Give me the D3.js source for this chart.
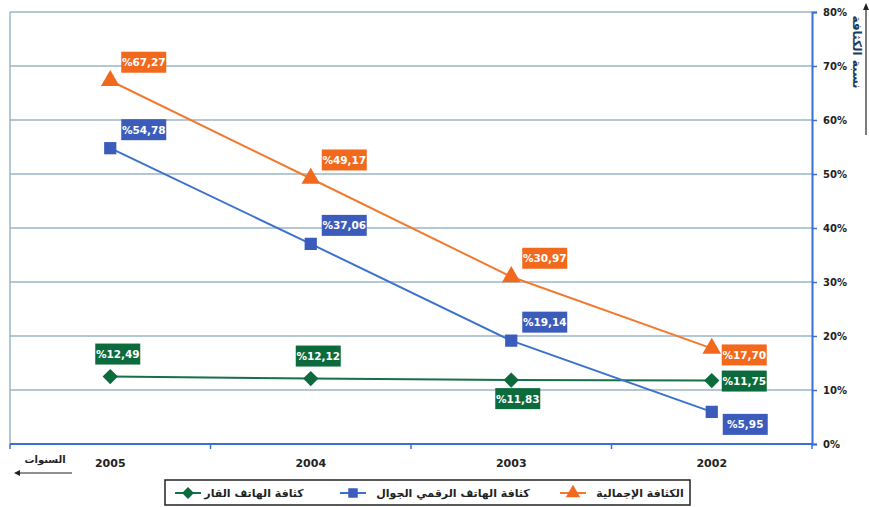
<html>
<head>
    <meta charset="utf-8">
    <title>Density</title>
    <script src="https://d3js.org/d3.v7.min.js"></script>
    <style>
        body { margin: 0; background: #fff; }
        text { font-family: "DejaVu Sans", sans-serif; }
    </style>
</head>
<body>
    <svg id="chart" width="869" height="507"></svg>
    <script>
        // data
        var years = ["2005", "2004", "2003", "2002"];
        var fixedLine = [12.49, 12.12, 11.83, 11.75];   // كثافة الهاتف القار
        var mobile = [54.78, 37.06, 19.14, 5.95];      // كثافة الهاتف الرقمي الجوال
        var total = [67.27, 49.17, 30.97, 17.70];      // الكثافة الإجمالية
        var yTicks = [0, 10, 20, 30, 40, 50, 60, 70, 80];

        var series = [
            { name: "كثافة الهاتف القار", values: fixedLine, color: "#0c6b3c", line: "#17704a", shape: d3.symbolDiamond2,
              place: ["above", "above", "below", "right"], legX: 10, legText: 89 },
            { name: "كثافة الهاتف الرقمي الجوال", values: mobile, color: "#3c5cbc", line: "#3a72cc", shape: d3.symbolSquare,
              place: ["rightUp", "rightUp", "rightUp", "rightDown"], legX: 175, legText: 288 },
            { name: "الكثافة الإجمالية", values: total, color: "#f2691e", line: "#f27a30", shape: d3.symbolTriangle,
              place: ["rightUp", "rightUp", "rightUp", "rightLow"], legX: 395, legText: 475 }
        ];

        var pLeft = 10, pRight = 812, pTop = 12, pBottom = 444;
        var svg = d3.select("#chart");

        var x = d3.scalePoint().domain(years).range([pLeft, pRight]).padding(0.5);
        var y = d3.scaleLinear().domain([0, 80]).range([pBottom, pTop]);

        // grid lines
        svg.append("g").selectAll("line").data(yTicks.slice(1)).enter().append("line")
            .attr("x1", pLeft).attr("x2", pRight)
            .attr("y1", function (d) { return y(d); }).attr("y2", function (d) { return y(d); })
            .attr("stroke", "#9bb5c6").attr("stroke-width", 1.5);
        svg.append("line").attr("x1", pLeft).attr("x2", pLeft).attr("y1", pTop).attr("y2", pBottom)
            .attr("stroke", "#9bb5c6").attr("stroke-width", 1.5);

        // right axis
        var yAxis = svg.append("g")
            .attr("transform", "translate(" + pRight + ",0)")
            .call(d3.axisRight(y).tickValues(yTicks).tickSize(5).tickPadding(6)
                .tickFormat(function (d) { return d + "%"; }));
        yAxis.select(".domain").attr("stroke", "#3a6fd8").attr("stroke-width", 2);
        yAxis.selectAll(".tick line").attr("stroke", "#3a6fd8").attr("stroke-width", 1.5);
        yAxis.selectAll("text").attr("font-size", 10).attr("font-weight", "bold").attr("fill", "#222")
            .attr("font-family", "'DejaVu Sans', sans-serif");

        // bottom axis
        var bounds = d3.range(years.length + 1).map(function (i) { return pLeft + i * x.step(); });
        svg.append("line").attr("x1", pLeft).attr("x2", pRight).attr("y1", pBottom).attr("y2", pBottom)
            .attr("stroke", "#3a6fd8").attr("stroke-width", 2);
        svg.append("g").selectAll("line").data(bounds).enter().append("line")
            .attr("x1", function (d) { return d; }).attr("x2", function (d) { return d; })
            .attr("y1", pBottom).attr("y2", pBottom + 5)
            .attr("stroke", "#3a6fd8").attr("stroke-width", 1.5);
        svg.append("g").selectAll("text").data(years).enter().append("text")
            .attr("x", function (d) { return x(d); }).attr("y", pBottom + 23)
            .attr("text-anchor", "middle").attr("font-size", 11).attr("font-weight", "bold")
            .attr("fill", "#222").text(function (d) { return d; });

        // axis titles
        svg.append("text").attr("x", 45).attr("y", pBottom + 19).attr("text-anchor", "middle")
            .attr("font-size", 10).attr("font-weight", "bold").attr("fill", "#222").text("السنوات");
        svg.append("line").attr("x1", 72).attr("x2", 18).attr("y1", pBottom + 29).attr("y2", pBottom + 29)
            .attr("stroke", "#222").attr("stroke-width", 1.2);
        svg.append("path").attr("d", "M14," + (pBottom + 29) + "l6,-3v6z").attr("fill", "#222");

        svg.append("text").attr("transform", "translate(853,52) rotate(90)").attr("text-anchor", "middle")
            .attr("font-size", 12).attr("font-weight", "bold").attr("fill", "#1d3b5c").text("نسبة الكثافة");
        svg.append("line").attr("x1", 866).attr("x2", 866).attr("y1", 8).attr("y2", 135)
            .attr("stroke", "#222").attr("stroke-width", 1.2);
        svg.append("path").attr("d", "M866,3l-3,7h6z").attr("fill", "#222");

        var line = d3.line()
            .x(function (d, i) { return x(years[i]); })
            .y(function (d) { return y(d); });

        function fmt(v) { return "%" + v.toFixed(2).replace(".", ","); }

        series.forEach(function (s) {
            var g = svg.append("g");
            g.append("path").datum(s.values).attr("d", line)
                .attr("fill", "none").attr("stroke", s.line).attr("stroke-width", 2);
            g.selectAll("path.m").data(s.values).enter().append("path").attr("class", "m")
                .attr("transform", function (d, i) { return "translate(" + x(years[i]) + "," + y(d) + ")"; })
                .attr("d", d3.symbol().type(s.shape).size(150))
                .attr("fill", s.color);

            var lab = g.selectAll("g.lab").data(s.values).enter().append("g").attr("class", "lab")
                .attr("transform", function (d, i) {
                    var px = x(years[i]), py = y(d), p = s.place[i];
                    var bx, by;
                    if (p === "above") { bx = px - 15; by = py - 33; }
                    else if (p === "below") { bx = px - 16; by = py + 8; }
                    else if (p === "right") { bx = px + 10; by = py - 10; }
                    else if (p === "rightLow") { bx = px + 10; by = py - 4; }
                    else if (p === "rightDown") { bx = px + 11; by = py + 2; }
                    else { bx = px + 11; by = py - 29; }
                    return "translate(" + bx + "," + by + ")";
                });
            lab.append("rect").attr("width", 45).attr("height", 21).attr("fill", s.color);
            lab.append("text").attr("x", 22.5).attr("y", 14.5).attr("text-anchor", "middle")
                .attr("font-size", 10.5).attr("font-weight", "bold").attr("fill", "#fff")
                .text(function (d) { return fmt(d); });
        });

        // legend
        var leg = svg.append("g").attr("transform", "translate(165,480)");
        leg.append("rect").attr("width", 525).attr("height", 25)
            .attr("fill", "#fff").attr("stroke", "#222").attr("stroke-width", 1.5);
        series.forEach(function (s) {
            var it = leg.append("g").attr("transform", "translate(" + s.legX + ",13)");
            it.append("line").attr("x1", 0).attr("x2", 26).attr("stroke", s.line).attr("stroke-width", 2);
            it.append("path").attr("transform", "translate(13,0)")
                .attr("d", d3.symbol().type(s.shape).size(90)).attr("fill", s.color);
            leg.append("text").attr("x", s.legText).attr("y", 17).attr("text-anchor", "middle")
                .attr("font-size", 11).attr("font-weight", "bold").attr("fill", "#222").text(s.name);
        });
    </script>
</body>
</html>
